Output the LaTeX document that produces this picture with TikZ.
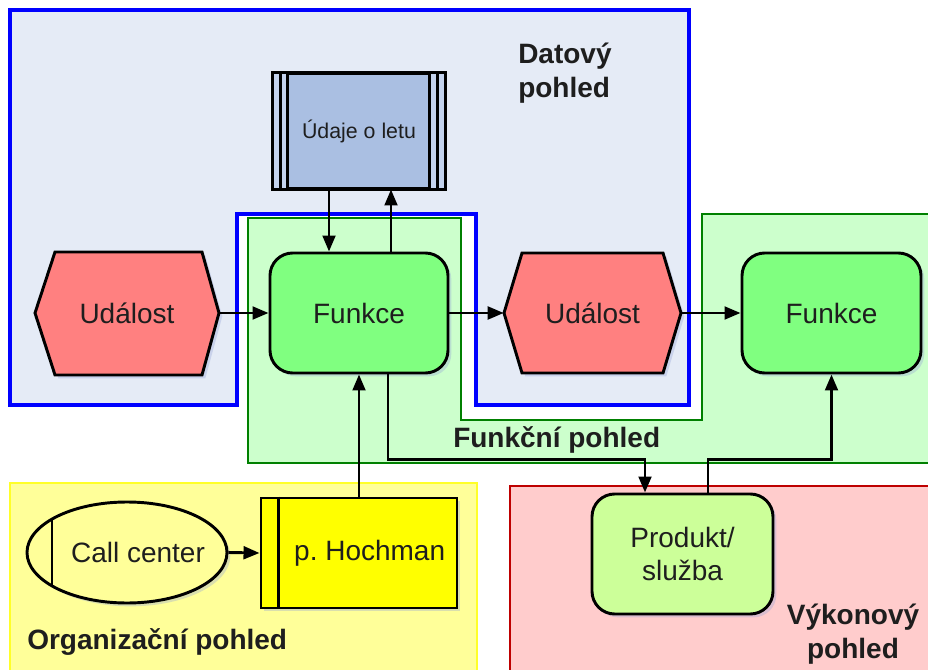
\documentclass[tikz,border=0pt]{standalone}
\usepackage{fontspec}
\setmainfont{Liberation Sans}
\usetikzlibrary{arrows.meta,calc,shadows,shapes.geometric}

\definecolor{datafill}{RGB}{229,235,246}
\definecolor{dataline}{RGB}{0,0,255}
\definecolor{funcfill}{RGB}{204,255,204}
\definecolor{funcline}{RGB}{0,128,0}
\definecolor{orgfill}{RGB}{255,255,153}
\definecolor{orgline}{RGB}{255,255,40}
\definecolor{perffill}{RGB}{255,204,204}
\definecolor{perfline}{RGB}{190,0,0}
\definecolor{eventfill}{RGB}{255,128,128}
\definecolor{funcbox}{RGB}{128,255,128}
\definecolor{infofill}{RGB}{170,191,226}
\definecolor{infostrip}{RGB}{196,211,238}
\definecolor{prodfill}{RGB}{204,255,153}
\definecolor{unitfill}{RGB}{255,255,0}
\definecolor{txt}{RGB}{30,30,30}
\definecolor{shade}{RGB}{150,165,215}

\tikzset{
  softshadow/.style={drop shadow={shadow xshift=2.5pt,shadow yshift=-2.5pt,fill=shade,opacity=0.35}},
  region/.style={line width=1.7pt},
  viewlabel/.style={font=\fontsize{21}{26}\selectfont\bfseries,text=txt,inner sep=0pt},
  boxtext/.style={font=\fontsize{21}{25}\selectfont,text=txt},
  eventshape/.style={draw=black,line width=2.2pt,fill=eventfill,softshadow},
  eventtext/.style={boxtext,inner sep=0pt},
  function/.style={boxtext,draw=black,line width=2.2pt,fill=funcbox,rounded corners=17pt,
    minimum width=133.5pt,minimum height=90pt,inner sep=0pt,softshadow},
  product/.style={boxtext,draw=black,line width=2.2pt,fill=prodfill,rounded corners=17pt,
    minimum width=135.75pt,minimum height=90pt,inner sep=0pt,align=center,softshadow},
  infoobj/.style={font=\fontsize{16}{19}\selectfont,text=txt,draw=black,line width=2.2pt,fill=infofill,
    minimum width=127.5pt,minimum height=85.5pt,inner sep=0pt,softshadow},
  orgunit/.style={boxtext,draw=black,line width=2.2pt,ellipse,fill=orgfill,
    minimum width=150pt,minimum height=75.75pt,inner sep=0pt,softshadow},
  person/.style={boxtext,draw=black,line width=2.2pt,fill=unitfill,
    minimum width=147pt,minimum height=82.5pt,inner sep=0pt,softshadow},
  flow/.style={line width=2.2pt,-{Triangle[length=12pt,width=9.5pt]}},
}

\begin{document}
\begin{tikzpicture}[x=0.75pt,y=-0.75pt]
\useasboundingbox (0,0) rectangle (928,670);
\clip (0,0) rectangle (928,670);
\fill[white] (0,0) rectangle (928,670);

% ---- views (coloured areas) ----
\draw[region,line width=2.3pt,draw=dataline,fill=datafill]
  (10,10) -- (689,10) -- (689,405) -- (476,405) -- (476,214) -- (237,214)
  -- (237,405) -- (10,405) -- cycle;
\draw[region,draw=funcline,fill=funcfill]
  (248,218) -- (461,218) -- (461,420) -- (702,420) -- (702,214) -- (940,214)
  -- (940,463) -- (248,463) -- cycle;
\draw[region,line width=2pt,draw=orgline,fill=orgfill] (10,483) rectangle (477,690);
\draw[region,line width=1.3pt,draw=perfline,fill=perffill] (510,486) rectangle (940,690);

% ---- view titles ----
\node[viewlabel,anchor=west,align=left] (tdata) at (518,73) {Datový\\pohled};
\node[viewlabel,anchor=west] (tfunc) at (453,440) {Funkční pohled};
\node[viewlabel,anchor=west] (torg) at (27,642) {Organizační pohled};
\node[viewlabel,align=center] (tperf) at (853,634) {Výkonový\\pohled};

% ---- events (hexagons) ----
\draw[eventshape] (35,313) -- (55,252) -- (202,252) -- (219,313) -- (202,375) -- (55,375) -- cycle;
\node[eventtext,minimum width=138pt,minimum height=92pt] (e1) at (127,313) {Událost};
\draw[eventshape] (504,313) -- (522,253) -- (663,253) -- (681,313) -- (663,373) -- (522,373) -- cycle;
\node[eventtext,minimum width=132.75pt,minimum height=90pt] (e2) at (592.5,313) {Událost};

% ---- functions ----
\node[function] (f1) at (359,313) {Funkce};
\node[function,minimum width=134.25pt] (f2) at (831.5,313) {Funkce};

% ---- information object ----
\node[infoobj] (dat) at (359,131) {Údaje o letu};
\fill[infostrip] ($(dat.north west)+(1,1)$) rectangle ($(dat.south west)+(15,-1)$);
\fill[infostrip] ($(dat.north east)+(-16,1)$) rectangle ($(dat.south east)+(-1,-1)$);
\draw[line width=2.2pt] (dat.north west) rectangle (dat.south east);
\draw[line width=1.7pt] ($(dat.north west)+(8,0)$) -- ($(dat.south west)+(8,0)$);
\draw[line width=1.7pt] ($(dat.north west)+(15,0)$) -- ($(dat.south west)+(15,0)$);
\draw[line width=1.7pt] ($(dat.north east)+(-16,0)$) -- ($(dat.south east)+(-16,0)$);
\draw[line width=1.7pt] ($(dat.north east)+(-8,0)$) -- ($(dat.south east)+(-8,0)$);

% ---- organisation ----
\node[orgunit] (cc) at (127,552.5) {\makebox[0pt]{\hspace*{16.5pt}Call center}};
\draw[line width=2.2pt] ($(cc.center)+(-75,-33.4)$) -- ($(cc.center)+(-75,33.4)$);
\node[person] (ph) at (359,553) {\hspace*{16pt}p.\ Hochman};
\draw[line width=2.2pt] ($(ph.north west)+(19,0)$) -- ($(ph.south west)+(19,0)$);

% ---- product / service ----
\node[product] (pr) at (682.5,554) {Produkt/\\služba};

% ---- connectors ----
\draw[flow] (e1.east) -- (f1.west);
\draw[flow] ($(dat.south)+(-30,0)$) -- ($(f1.north)+(-30,0)$);
\draw[flow] ($(f1.north)+(32,0)$) -- ($(dat.south)+(32,0)$);
\draw[flow] (f1.east) -- (e2.west);
\draw[flow] (e2.east) -- (f2.west);
\draw[flow] (cc.east) -- (ph.west);
\draw[flow] (ph.north) -- (f1.south);
\draw[flow] ($(f1.south)+(29,0)$) -- ++(0,85) -| ($(pr.north)+(-37.5,0)$);
\draw[flow] ($(pr.north)+(25.5,0)$) -- ++(0,-33) -| (f2.south);
\end{tikzpicture}
\end{document}
